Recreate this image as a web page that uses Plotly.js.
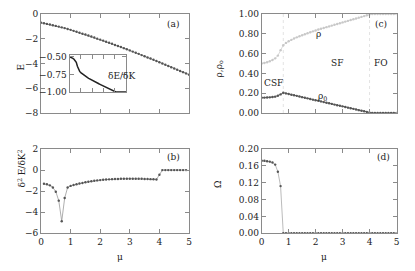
<!DOCTYPE html>
<html><head><meta charset="utf-8">
<script src="https://cdn.plot.ly/plotly-3.0.1.min.js"></script>
<style>html,body{margin:0;padding:0;background:#fff}#c{width:415px;height:271px}</style>
</head><body><div id="c"></div>
<script>
// chemical potential grid
const mu = [0,0.1,0.2,0.3,0.4,0.5,0.6,0.7,0.8,0.9,1.0,1.1,1.2,1.3,1.4,1.5,1.6,1.7,1.8,1.9,2.0,2.1,2.2,2.3,2.4,2.5,2.6,2.7,2.8,2.9,3.0,3.1,3.2,3.3,3.4,3.5,3.6,3.7,3.8,3.9,4.0,4.1,4.2,4.3,4.4,4.5,4.6,4.7,4.8,4.9,5.0];
// (a) energy
const energy = [-0.70,-0.75,-0.80,-0.85,-0.91,-0.96,-1.02,-1.08,-1.14,-1.21,-1.28,-1.36,-1.43,-1.51,-1.59,-1.66,-1.74,-1.82,-1.90,-1.99,-2.07,-2.15,-2.24,-2.32,-2.41,-2.50,-2.58,-2.67,-2.76,-2.85,-2.94,-3.04,-3.13,-3.22,-3.32,-3.41,-3.51,-3.60,-3.70,-3.80,-3.90,-4.00,-4.10,-4.20,-4.30,-4.40,-4.50,-4.60,-4.70,-4.80,-4.90];
// inset dE/dK
const dEdK = [-0.500,-0.505,-0.512,-0.522,-0.535,-0.552,-0.580,-0.635,-0.685,-0.708,-0.725,-0.739,-0.752,-0.764,-0.775,-0.786,-0.796,-0.806,-0.816,-0.825,-0.834,-0.843,-0.851,-0.859,-0.867,-0.875,-0.883,-0.891,-0.899,-0.907,-0.915,-0.923,-0.931,-0.939,-0.947,-0.955,-0.963,-0.971,-0.979,-0.988,-0.997,-1,-1,-1,-1,-1,-1,-1,-1,-1,-1];
// (c) densities
const rho = [0.500,0.505,0.512,0.522,0.535,0.552,0.580,0.635,0.685,0.708,0.725,0.739,0.752,0.764,0.775,0.786,0.796,0.806,0.816,0.825,0.834,0.843,0.851,0.859,0.867,0.875,0.883,0.891,0.899,0.907,0.915,0.923,0.931,0.939,0.947,0.955,0.963,0.971,0.979,0.988,0.997,1,1,1,1,1,1,1,1,1,1];
const rho0 = [0.155,0.155,0.156,0.158,0.161,0.165,0.174,0.188,0.205,0.198,0.192,0.185,0.179,0.173,0.167,0.160,0.154,0.148,0.142,0.135,0.129,0.123,0.117,0.110,0.104,0.098,0.092,0.085,0.079,0.073,0.067,0.060,0.054,0.048,0.042,0.035,0.029,0.023,0.017,0.010,0.003,0,0,0,0,0,0,0,0,0,0];
// (b) second derivative
const muB = [0.1,0.2,0.3,0.4,0.5,0.6,0.7,0.8,0.9,1.0,1.1,1.2,1.3,1.4,1.5,1.6,1.7,1.8,1.9,2.0,2.1,2.2,2.3,2.4,2.5,2.6,2.7,2.8,2.9,3.0,3.1,3.2,3.3,3.4,3.5,3.6,3.7,3.8,3.9,4.0,4.1,4.2,4.3,4.4,4.5,4.6,4.7,4.8,4.9];
const d2E = [-1.30,-1.35,-1.45,-1.65,-2.05,-2.90,-4.85,-2.65,-1.65,-1.50,-1.42,-1.35,-1.28,-1.22,-1.16,-1.11,-1.06,-1.02,-0.98,-0.95,-0.92,-0.90,-0.88,-0.86,-0.85,-0.84,-0.83,-0.82,-0.82,-0.82,-0.82,-0.82,-0.83,-0.83,-0.84,-0.85,-0.86,-0.87,-0.89,-0.45,0,0,0,0,0,0,0,0,0];
// (d) Omega
const omega = [0.172,0.172,0.171,0.170,0.168,0.163,0.146,0.112,0,0,0,0,0,0,0,0,0,0,0,0,0,0,0,0,0,0,0,0,0,0,0,0,0,0,0,0,0,0,0,0,0,0,0,0,0,0,0,0,0,0,0];
const boundaries = [0.8, 4.0];
const yTicksA = [0,-2,-4,-6,-8], yTicksB = [2,0,-2,-4,-6];
const yTicksC = [0,0.2,0.4,0.6,0.8,1.0], yTicksD = [0,0.04,0.08,0.12,0.16,0.20];
const insetTicks = [-0.5,-0.75,-1.0];

const W = 415, H = 271;
const px = v => v / W, py = v => 1 - v / H;
const FONT = {family: 'DejaVu Serif', size: 9, color: '#222'};
const AX = '#8a8a8a';
const mk = {size: 2.4, color: '#555'};

function xax(dom, anchor, labels) {
  return {domain: dom, anchor: anchor, range: [0, 5], dtick: 1, ticks: 'inside', ticklen: 4,
    tickcolor: AX, showline: true, linecolor: AX, linewidth: 1, mirror: 'ticks',
    showgrid: false, zeroline: false, showticklabels: labels, tickfont: FONT, fixedrange: true};
}
function yax(dom, anchor, range, vals, fmt) {
  return {domain: dom, anchor: anchor, range: range, tickvals: vals, tickformat: fmt, ticks: 'inside', ticklen: 4,
    tickcolor: AX, showline: true, linecolor: AX, linewidth: 1, mirror: 'ticks',
    showgrid: false, zeroline: false, tickfont: FONT, fixedrange: true};
}
const dxL = [px(41), px(189)], dxR = [px(261.7), px(396.5)];
const dyT = [py(113), py(14)], dyB = [py(233.3), py(149)];

const traces = [
  {x: mu, y: energy, xaxis: 'x', yaxis: 'y', mode: 'lines+markers', line: {color: '#777', width: 0.8}, marker: mk},
  {x: mu, y: rho, xaxis: 'x2', yaxis: 'y2', mode: 'lines+markers', line: {color: '#d0d0d0', width: 0.8}, marker: {size: 2.4, color: '#c8c8c8'}},
  {x: mu, y: rho0, xaxis: 'x2', yaxis: 'y2', mode: 'lines+markers', line: {color: '#444', width: 0.8}, marker: mk},
  {x: muB, y: d2E, xaxis: 'x3', yaxis: 'y3', mode: 'lines+markers', line: {color: '#999', width: 0.8}, marker: mk},
  {x: mu, y: omega, xaxis: 'x4', yaxis: 'y4', mode: 'lines+markers', line: {color: '#aaa', width: 0.8}, marker: mk},
  {x: mu, y: dEdK, xaxis: 'x5', yaxis: 'y5', mode: 'lines', line: {color: '#222', width: 1.5}}
];

const shapes = boundaries.map(b => ({type: 'line', xref: 'x2', yref: 'y2 domain', x0: b, x1: b, y0: 0, y1: 1,
  line: {color: '#dcdcdc', width: 0.8, dash: 'dot'}, layer: 'below'}));

const ann = (text, x, y, xref, yref, extra) => Object.assign({text: text, x: x, y: y, xref: xref, yref: yref,
  showarrow: false, font: FONT}, extra || {});

const layout = {
  width: W, height: H, margin: {l: 0, r: 0, t: 0, b: 0}, paper_bgcolor: '#fff', plot_bgcolor: 'rgba(0,0,0,0)',
  showlegend: false, font: FONT,
  xaxis: xax(dxL, 'y', false), yaxis: yax(dyT, 'x', [-8, 0], yTicksA, ''),
  xaxis2: xax(dxR, 'y2', false), yaxis2: yax(dyT, 'x2', [0, 1], yTicksC, '.2f'),
  xaxis3: xax(dxL, 'y3', true), yaxis3: yax(dyB, 'x3', [-6, 2], yTicksB, ''),
  xaxis4: xax(dxR, 'y4', true), yaxis4: yax(dyB, 'x4', [0, 0.2], yTicksD, '.2f'),
  xaxis5: Object.assign(xax([px(69.5), px(126)], 'y5', false), {dtick: 1}),
  yaxis5: Object.assign(yax([py(92), py(55)], 'x5', [-1.0, -0.475], insetTicks, '.2f'), {}),
  shapes: shapes,
  annotations: [
    ann('(a)', 4.47, -0.8, 'x', 'y'),
    ann('(c)', 4.44, 0.9, 'x2', 'y2'),
    ann('(b)', 4.48, 1.2, 'x3', 'y3'),
    ann('(d)', 4.53, 0.182, 'x4', 'y4'),
    ann('ρ', 2.1, 0.80, 'x2', 'y2'),
    ann('ρ<sub>0</sub>', 2.25, 0.17, 'x2', 'y2'),
    ann('CSF', 0.43, 0.30, 'x2', 'y2'),
    ann('SF', 2.78, 0.505, 'x2', 'y2'),
    ann('FO', 4.42, 0.505, 'x2', 'y2'),
    ann('δE/δK', px(106), py(69.5), 'paper', 'paper'),
    ann('E', px(13), py(62), 'paper', 'paper', {textangle: -90}),
    ann('δ<sup>2</sup> E/δK<sup>2</sup>', px(13.5), py(190), 'paper', 'paper', {textangle: -90}),
    ann('ρ,ρ<sub>o</sub>', px(219), py(59), 'paper', 'paper', {textangle: -90}),
    ann('Ω', px(218), py(190.5), 'paper', 'paper', {textangle: -90}),
    ann('μ', px(115), py(264), 'paper', 'paper'),
    ann('μ', px(329), py(264), 'paper', 'paper')
  ]
};
Plotly.newPlot('c', traces, layout, {staticPlot: true, displayModeBar: false});
</script></body></html>
